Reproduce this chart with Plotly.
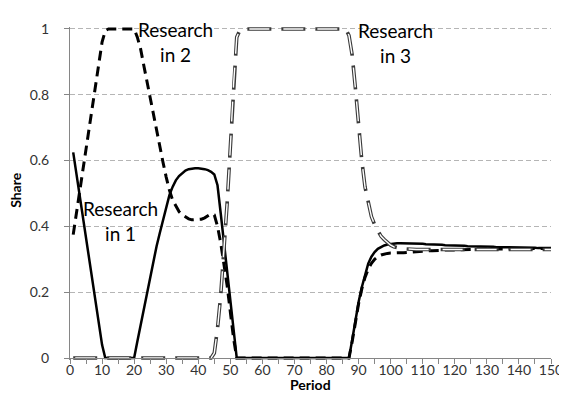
import plotly.graph_objects as go

periods = list(range(1, 151))

research_1 = [
    0.625, 0.56, 0.495, 0.43, 0.365, 0.30, 0.235, 0.17, 0.105, 0.04,
    0, 0, 0, 0, 0, 0, 0, 0, 0, 0,
    0.05, 0.10, 0.15, 0.20, 0.25, 0.295, 0.34, 0.38, 0.42, 0.46,
    0.495, 0.52, 0.54, 0.553, 0.563, 0.57, 0.574, 0.576, 0.577, 0.577,
    0.576, 0.574, 0.571, 0.566, 0.558, 0.525, 0.44, 0.35, 0.26, 0.17,
    0.08, 0, 0, 0, 0, 0, 0, 0, 0, 0,
    0, 0, 0, 0, 0, 0, 0, 0, 0, 0,
    0, 0, 0, 0, 0, 0, 0, 0, 0, 0,
    0, 0, 0, 0, 0, 0, 0, 0.055, 0.115, 0.17,
    0.215, 0.255, 0.287, 0.308, 0.322, 0.332, 0.338, 0.342, 0.345, 0.347,
    0.348, 0.349, 0.349, 0.349, 0.349, 0.349, 0.348, 0.348, 0.347, 0.347,
    0.346, 0.346, 0.345, 0.345, 0.344, 0.344, 0.343, 0.343, 0.342, 0.342,
    0.342, 0.341, 0.341, 0.340, 0.340, 0.340, 0.339, 0.339, 0.339, 0.338,
    0.338, 0.338, 0.337, 0.337, 0.337, 0.337, 0.336, 0.336, 0.336, 0.336,
    0.335, 0.335, 0.335, 0.335, 0.335, 0.334, 0.334, 0.334, 0.334, 0.334,
]

research_2 = [
    0.375, 0.44, 0.505, 0.57, 0.635, 0.70, 0.765, 0.83, 0.895, 0.96,
    0.995, 1, 1, 1, 1, 1, 1, 1, 1, 1,
    0.975, 0.94, 0.89, 0.84, 0.785, 0.735, 0.69, 0.64, 0.595, 0.55,
    0.51, 0.48, 0.46, 0.445, 0.435, 0.428, 0.423, 0.42, 0.42, 0.42,
    0.422, 0.426, 0.432, 0.438, 0.435, 0.40, 0.35, 0.29, 0.22, 0.14,
    0.06, 0, 0, 0, 0, 0, 0, 0, 0, 0,
    0, 0, 0, 0, 0, 0, 0, 0, 0, 0,
    0, 0, 0, 0, 0, 0, 0, 0, 0, 0,
    0, 0, 0, 0, 0, 0, 0, 0.05, 0.11, 0.165,
    0.21, 0.245, 0.27, 0.288, 0.30, 0.308, 0.313, 0.316, 0.318, 0.319,
    0.32, 0.32, 0.32, 0.32, 0.321, 0.322, 0.323, 0.324, 0.324, 0.325,
    0.325, 0.326, 0.326, 0.327, 0.327, 0.327, 0.328, 0.328, 0.328, 0.329,
    0.329, 0.329, 0.33, 0.33, 0.33, 0.33, 0.331, 0.331, 0.331, 0.331,
    0.331, 0.332, 0.332, 0.332, 0.332, 0.332, 0.332, 0.333, 0.333, 0.333,
    0.333, 0.333, 0.333, 0.333, 0.333, 0.333, 0.333, 0.333, 0.333, 0.333,
]

research_3 = [
    0, 0, 0, 0, 0, 0, 0, 0, 0, 0,
    0, 0, 0, 0, 0, 0, 0, 0, 0, 0,
    0, 0, 0, 0, 0, 0, 0, 0, 0, 0,
    0, 0, 0, 0, 0, 0, 0, 0, 0, 0,
    0, 0, 0, 0, 0.015, 0.09, 0.19, 0.32, 0.47, 0.64,
    0.83, 0.975, 0.997, 1, 1, 1, 1, 1, 1, 1,
    1, 1, 1, 1, 1, 1, 1, 1, 1, 1,
    1, 1, 1, 1, 1, 1, 1, 1, 1, 1,
    1, 1, 1, 1, 1, 1, 0.98, 0.92, 0.82, 0.70,
    0.60, 0.52, 0.47, 0.43, 0.405, 0.385, 0.37, 0.36, 0.35, 0.343,
    0.338, 0.335, 0.333, 0.332, 0.331, 0.331, 0.33, 0.33, 0.33, 0.33,
    0.33, 0.33, 0.33, 0.33, 0.33, 0.33, 0.33, 0.33, 0.33, 0.33,
    0.33, 0.33, 0.33, 0.33, 0.33, 0.33, 0.33, 0.33, 0.33, 0.33,
    0.33, 0.33, 0.33, 0.33, 0.33, 0.33, 0.33, 0.33, 0.33, 0.33,
    0.33, 0.33, 0.33, 0.33, 0.33, 0.33, 0.33, 0.33, 0.33, 0.33,
]

x_ticks = list(range(0, 151, 10))
y_ticks = [0, 0.2, 0.4, 0.6, 0.8, 1]
y_tick_labels = ["0", "0.2", "0.4", "0.6", "0.8", "1"]

labels = [
    ("Research<br>in 1", 15.6, 0.416),
    ("Research<br>in 2", 33.0, 0.960),
    ("Research<br>in 3", 101.4, 0.958),
]

FONT = "Lato, 'Open Sans', sans-serif"

fig = go.Figure()
fig.add_trace(go.Scatter(x=periods, y=research_1, mode="lines",
                         line=dict(color="black", width=2.5), hoverinfo="skip"))
fig.add_trace(go.Scatter(x=periods, y=research_2, mode="lines",
                         line=dict(color="black", width=3, dash="10px,6px"), hoverinfo="skip"))
fig.add_trace(go.Scatter(x=periods, y=research_3, mode="lines",
                         line=dict(color="#3a3a3a", width=3.6, dash="24px,10px"), hoverinfo="skip"))
fig.add_trace(go.Scatter(x=periods, y=research_3, mode="lines",
                         line=dict(color="white", width=1.4, dash="0px,2px,20px,12px"), hoverinfo="skip"))

for txt, xv, yv in labels:
    fig.add_annotation(x=xv, y=yv, text=txt, showarrow=False, xanchor="center", yanchor="middle",
                       font=dict(family=FONT, size=19, color="black"))

ymin, ymax = -0.006, 1.006
fig.add_annotation(xref="paper", yref="paper", x=-0.115, y=0.51, text="<b>Share</b>", textangle=-90,
                   showarrow=False, xanchor="center", yanchor="middle",
                   font=dict(family=FONT, size=14, color="black"))
fig.add_annotation(xref="paper", yref="paper", x=0.5, y=-0.074, text="<b>Period</b>",
                   showarrow=False, xanchor="center", yanchor="middle",
                   font=dict(family=FONT, size=14, color="black"))

fig.update_layout(
    width=567, height=394,
    margin=dict(l=62, r=14, t=15, b=42),
    paper_bgcolor="white", plot_bgcolor="white",
    showlegend=False,
    font=dict(family=FONT, size=14, color="#333"),
    xaxis=dict(range=[0, 150], tickvals=x_ticks, ticks="outside", ticklen=5, tickcolor="#868686",
               showline=True, linecolor="#868686", linewidth=1, showgrid=False, zeroline=False,
               anchor="free", position=(0 - ymin) / (ymax - ymin),
               minor=dict(dtick=5, tick0=0, ticks="outside", ticklen=5, tickcolor="#868686", showgrid=False),
               tickfont=dict(family=FONT, size=14, color="#333"), ticklabelstandoff=-6),
    yaxis=dict(range=[ymin, ymax], tickvals=y_ticks, ticktext=y_tick_labels, ticks="outside", ticklen=5,
               tickcolor="#868686", showline=True, linecolor="#868686", linewidth=1,
               showgrid=True, gridcolor="#b5b5b5", griddash="5px,3px", gridwidth=1, zeroline=False,
               tickfont=dict(family=FONT, size=14, color="#333"), ticklabelstandoff=12),
)

fig.write_html("out.html")
